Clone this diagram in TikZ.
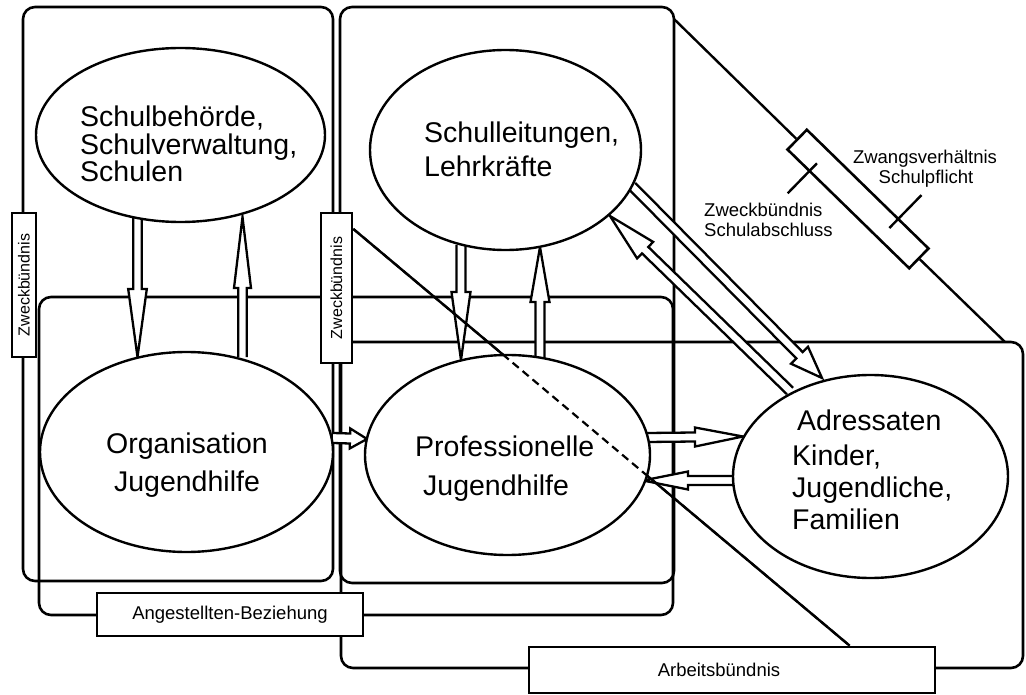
\documentclass[tikz,border=0pt]{standalone}
\usepackage{fontspec}
\setmainfont{Liberation Sans}
\usetikzlibrary{shapes.geometric,calc}

\newcommand\ovalfont{\fontsize{28.5}{30}\selectfont}
\newcommand\tagfont{\fontsize{18.5}{21}\selectfont}
\newcommand\sidefont{\fontsize{16}{18}\selectfont}

\tikzset{
  frame/.style={line width=2.6pt, rounded corners=12pt},
  thinline/.style={line width=2.4pt},
  oval/.style={ellipse, draw, fill=white, line width=2.4pt, inner sep=0pt},
  tag/.style={draw, fill=white, line width=2.6pt, inner sep=0pt, font=\tagfont},
  arrowline/.style={line width=2.3pt, line join=miter, miter limit=20},
  ovaltext/.style={font=\ovalfont, inner sep=0pt, anchor=base west},
  ovaltextc/.style={font=\ovalfont, inner sep=0pt, anchor=base},
  note/.style={font=\tagfont, inner sep=0pt, anchor=base west},
  notec/.style={font=\tagfont, inner sep=0pt, anchor=base},
  hiddenline/.style={line width=2.2pt, dash pattern=on 8pt off 5pt},
}

% hollow block arrow: #1 tail, #2 tip, #3 half shaft width, #4 half head width, #5 head length
\newcommand\hollowarrow[5]{%
  \coordinate (hb) at ($(#2)!#5!(#1)$);
  \fill[white] ($(#1)!#3!90:(#2)$) -- ($(hb)!#3!90:(#2)$) -- ($(hb)!#4!90:(#2)$)
    -- (#2) -- ($(hb)!#4!-90:(#2)$) -- ($(hb)!#3!-90:(#2)$) -- ($(#1)!#3!-90:(#2)$) -- cycle;
  \draw[arrowline] ($(#1)!#3!90:(#2)$) -- ($(hb)!#3!90:(#2)$) -- ($(hb)!#4!90:(#2)$)
    -- (#2) -- ($(hb)!#4!-90:(#2)$) -- ($(hb)!#3!-90:(#2)$) -- ($(#1)!#3!-90:(#2)$);
}

\begin{document}
\begin{tikzpicture}[x=1pt,y=-1pt]
\fill[white] (0,0) rectangle (1026,695);
\useasboundingbox (0,0) rectangle (1026,695);

% frames
\draw[frame] (23,7) rectangle (333,581);
\draw[frame] (340,7) rectangle (674,583);
\draw[frame] (39,297) rectangle (673,615);
\draw[frame] (341,342) rectangle (1023,668);

% relation tags
\node[tag, minimum width=24pt, minimum height=144pt] (z1) at (24,285)
  {\rotatebox{90}{\sidefont Zweckbündnis}};
\node[tag, minimum width=31pt, minimum height=150pt] (z2) at (336.5,288)
  {\rotatebox{90}{\sidefont Zweckbündnis}};
\node[tag, minimum width=266pt, minimum height=43pt] (ang) at (230,614.5)
  {Angestellten-Beziehung};
\node[tag, minimum width=406pt, minimum height=46pt] (arb) at (732,670)
  {\hspace*{-26pt}Arbeitsbündnis};
\node[tag, minimum width=170pt, minimum height=27.6pt, rotate=-44.3] (zw) at (858,199) {};

% triangle edge through the compulsory-schooling tag
\coordinate (tritop) at (674,19);
\coordinate (triend) at (1005,342);
\draw[thinline] (tritop) -- (zw.west);
\draw[thinline] (zw.east) -- (triend);

% ticks on the tag
\coordinate (tk1) at ($(zw.south west)!32pt!(zw.south east)$);
\draw[thinline] ($(tk1)!12pt!90:(zw.south east)$) -- ($(tk1)!30pt!-90:(zw.south east)$);
\coordinate (tk2) at ($(zw.north west)!129pt!(zw.north east)$);
\draw[thinline] ($(tk2)!14pt!-90:(zw.north east)$) -- ($(tk2)!32pt!90:(zw.north east)$);

% arrow end points
\coordinate (a1t) at (137.5,218);  \coordinate (a1h) at (137.5,357);
\coordinate (a2t) at (242.5,357);  \coordinate (a2h) at (242.5,217);
\coordinate (a3t) at (461,245);    \coordinate (a3h) at (461,360);
\coordinate (a4t) at (540,358);    \coordinate (a4h) at (540,247);
\coordinate (a5t) at (333,438);    \coordinate (a5h) at (367,439);
\coordinate (a6t) at (647,437.5);  \coordinate (a6h) at (743,436.5);
\coordinate (a7t) at (733,480.5);  \coordinate (a7h) at (643,480.5);
\coordinate (d1t) at (632,186);    \coordinate (d1h) at (822,378);
\coordinate (d2t) at (790,391);    \coordinate (d2h) at (610,216);

\hollowarrow{a1t}{a1h}{4.3pt}{9.3pt}{68pt}
\hollowarrow{a2t}{a2h}{4.3pt}{8.5pt}{71pt}
\hollowarrow{a3t}{a3h}{4.5pt}{9.5pt}{68pt}
\hollowarrow{a4t}{a4h}{4.5pt}{9.5pt}{55pt}
\hollowarrow{a5t}{a5h}{5pt}{10pt}{17pt}
\hollowarrow{a6t}{a6h}{4.5pt}{9.5pt}{48pt}
\hollowarrow{a7t}{a7h}{4.5pt}{9pt}{45pt}
\hollowarrow{d1t}{d1h}{4.5pt}{12pt}{32pt}
\hollowarrow{d2t}{d2h}{4.5pt}{11.5pt}{49pt}

% line from the second Zweckbündnis tag to the Arbeitsbündnis tag
\coordinate (lnA) at ($(z2.north east)!0.113!(z2.south east)$);
\coordinate (lnB) at ($(arb.north west)!0.788!(arb.north east)$);
\draw[thinline] (lnA) -- (lnB);

% actors
\node[oval, minimum width=289pt, minimum height=174pt] (e1) at (180.5,135) {};
\node[oval, minimum width=271pt, minimum height=200pt] (e2) at (505.5,150) {};
\node[oval, minimum width=293pt, minimum height=200pt] (e3) at (186.5,452) {};
\node[oval, minimum width=285pt, minimum height=200pt] (e4) at (507.5,455) {};
\node[oval, minimum width=275pt, minimum height=203pt] (e5) at (870.5,476.5) {};

% the same line, hidden behind the professional youth-welfare oval
\draw[hiddenline] (lnA) -- (lnB);

% texts
\node[ovaltext] (e1a) at (80,127) {Schulbehörde,};
\node[ovaltext] (e1b) at (80,155) {Schulverwaltung,};
\node[ovaltext] (e1c) at (80,182) {Schulen};
\node[ovaltext] (e2a) at (424,143) {Schulleitungen,};
\node[ovaltext] (e2b) at (424,177) {Lehrkräfte};
\node[ovaltextc] (e3a) at (187,453) {Organisation};
\node[ovaltextc] (e3b) at (187,491) {Jugendhilfe};
\node[ovaltext] (e4a) at (415,456) {Professionelle};
\node[ovaltext] (e4b) at (423,495) {Jugendhilfe};
\node[ovaltext] (e5a) at (797,430) {Adressaten};
\node[ovaltext] (e5b) at (792,465) {Kinder,};
\node[ovaltext] (e5c) at (792,497) {Jugendliche,};
\node[ovaltext] (e5d) at (792,529) {Familien};

\node[notec] (zwa) at (925,163.5) {Zwangsverhältnis};
\node[notec] (zwb) at (926,183.5) {Schulpflicht};
\node[note] (zka) at (704,217) {Zweckbündnis};
\node[note] (zkb) at (704,237) {Schulabschluss};
\end{tikzpicture}
\end{document}
